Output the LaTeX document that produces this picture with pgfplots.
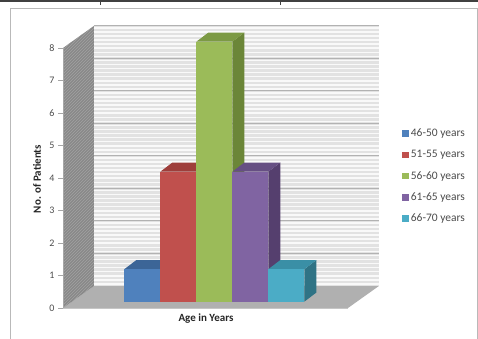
\documentclass[border=0pt]{standalone}
\usepackage{pgfplots}
\pgfplotsset{compat=1.18}
\usepackage{fontspec}
\setmainfont{Carlito}
\usetikzlibrary{patterns}
\definecolor{cBlue}{HTML}{4F81BD}\definecolor{tBlue}{HTML}{3C6597}\definecolor{sBlue}{HTML}{2E5180}
\definecolor{cRed}{HTML}{C0504D}\definecolor{tRed}{HTML}{9E3E3B}\definecolor{sRed}{HTML}{8A3533}
\definecolor{cGreen}{HTML}{9BBB59}\definecolor{tGreen}{HTML}{7C9A44}\definecolor{sGreen}{HTML}{6B8638}
\definecolor{cPurple}{HTML}{8064A2}\definecolor{tPurple}{HTML}{664F83}\definecolor{sPurple}{HTML}{553F6E}
\definecolor{cCyan}{HTML}{4BACC6}\definecolor{tCyan}{HTML}{3A8FA6}\definecolor{sCyan}{HTML}{2F7385}
\definecolor{wallBack}{HTML}{E2E2E2}\definecolor{wallSide}{HTML}{888888}\definecolor{floorC}{HTML}{B0B0B0}
\definecolor{hatch}{HTML}{A2A2A2}
\begin{document}
\begin{tikzpicture}[x=1pt,y=1pt]
\draw[line width=1.6pt, black!75] (0,337.2) -- (478,337.2);
\draw[line width=0.8pt, black!75] (100,338) -- (100,333);
\draw[line width=0.8pt, black!75] (280,338) -- (280,333);
\draw[gray!55] (10.5,-2) -- (10.5,329.5) -- (477.3,329.5) -- (477.3,-2);
% ---------- axis A: walls, floor, y axis, titles
\begin{axis}[
  x=1pt, y=32.5pt, xmin=0, xmax=285, ymin=0, ymax=8,
  anchor=south west, at={(63pt,30pt)}, clip=false, axis on top,
  axis lines*=left, x axis line style={draw=none},
  y axis line style={gray!70}, ytick={0,1,...,8}, xtick=\empty,
  tick align=outside, major tick length=5pt, tick style={gray!70},
  /pgf/number format/assume math mode=true,
  yticklabel style={font=\fontsize{10}{12}\selectfont, text=black!70},
  xlabel={Age in Years}, ylabel={No. of Patients},
  xlabel style={at={(axis cs:143,-0.31)}, anchor=center, font=\bfseries\fontsize{11}{13}\selectfont, text=black!85},
  ylabel style={at={(axis cs:-26,3.97)}, anchor=center, font=\bfseries\fontsize{11}{13}\selectfont, text=black!85},
]
\fill[floorC] (axis cs:0,0) -- (axis cs:285,0) -- (axis cs:316,0.68) -- (axis cs:31,0.68) -- cycle;
\fill[wallSide] (axis cs:0,0) -- (axis cs:31,0.68) -- (axis cs:31,8.68) -- (axis cs:0,8) -- cycle;
\fill[pattern=north east lines, pattern color=hatch] (axis cs:0,0) -- (axis cs:31,0.68) -- (axis cs:31,8.68) -- (axis cs:0,8) -- cycle;
\fill[wallBack] (axis cs:31,0.68) rectangle (axis cs:316,8.68);
\pgfplotsinvokeforeach{0,...,63}{
  \draw[white!80!wallBack, line width=1.6pt] (axis cs:31,{0.68+0.125*#1+0.0625}) -- (axis cs:316,{0.68+0.125*#1+0.0625});
}
\pgfplotsinvokeforeach{1,...,8}{
  \draw[gray!60, line width=0.9pt] (axis cs:31,{#1+0.68}) -- (axis cs:316,{#1+0.68});
}
\draw[gray!45] (axis cs:0,0) -- (axis cs:285,0);
\end{axis}
% ---------- axis B: bars and legend
\begin{axis}[
  x=1pt, y=32.5pt, xmin=0, xmax=285, ymin=0, ymax=8,
  anchor=south west, at={(72pt,36.3pt)}, clip=false, hide axis,
  legend style={at={(1.148,0.672)}, anchor=north west, draw=none, fill=none,
    font=\fontsize{11.5}{13}\selectfont, text=black!70,
    nodes={inner sep=0pt, text height=7.5pt, text depth=2pt}, row sep=11.7pt, column sep=2pt},
  legend cell align=left,
  legend image code/.code={\fill[#1, draw=none] (0pt,-3pt) rectangle (6.5pt,3.5pt);},
]
% blue
\addplot[fill=sBlue, draw=none, forget plot] coordinates {(88.3,0) (100.3,0.28) (100.3,1.28) (88.3,1)} -- cycle;
\addplot[fill=tBlue, draw=none, forget plot] coordinates {(52.3,1) (88.3,1) (100.3,1.28) (64.3,1.28)} -- cycle;
\addplot[ybar, bar width=36, bar shift=0pt, fill=cBlue, draw=none] coordinates {(70.3,1)};
% red
\addplot[fill=sRed, draw=none, forget plot] coordinates {(124.3,0) (136.3,0.28) (136.3,4.28) (124.3,4)} -- cycle;
\addplot[fill=tRed, draw=none, forget plot] coordinates {(88.3,4) (124.3,4) (136.3,4.28) (100.3,4.28)} -- cycle;
\addplot[ybar, bar width=36, bar shift=0pt, fill=cRed, draw=none] coordinates {(106.3,4)};
% green
\addplot[fill=sGreen, draw=none, forget plot] coordinates {(160.3,0) (172.3,0.28) (172.3,8.28) (160.3,8)} -- cycle;
\addplot[fill=tGreen, draw=none, forget plot] coordinates {(124.3,8) (160.3,8) (172.3,8.28) (136.3,8.28)} -- cycle;
\addplot[ybar, bar width=36, bar shift=0pt, fill=cGreen, draw=none] coordinates {(142.3,8)};
% purple
\addplot[fill=sPurple, draw=none, forget plot] coordinates {(196.3,0) (208.3,0.28) (208.3,4.28) (196.3,4)} -- cycle;
\addplot[fill=tPurple, draw=none, forget plot] coordinates {(160.3,4) (196.3,4) (208.3,4.28) (172.3,4.28)} -- cycle;
\addplot[ybar, bar width=36, bar shift=0pt, fill=cPurple, draw=none] coordinates {(178.3,4)};
% cyan
\addplot[fill=sCyan, draw=none, forget plot] coordinates {(232.3,0) (244.3,0.28) (244.3,1.28) (232.3,1)} -- cycle;
\addplot[fill=tCyan, draw=none, forget plot] coordinates {(196.3,1) (232.3,1) (244.3,1.28) (208.3,1.28)} -- cycle;
\addplot[ybar, bar width=36, bar shift=0pt, fill=cCyan, draw=none] coordinates {(214.3,1)};
\legend{46-50 years, 51-55 years, 56-60 years, 61-65 years, 66-70 years}
\end{axis}
\pgfresetboundingbox
\useasboundingbox (0,0) rectangle (478,338);
\end{tikzpicture}
\end{document}
